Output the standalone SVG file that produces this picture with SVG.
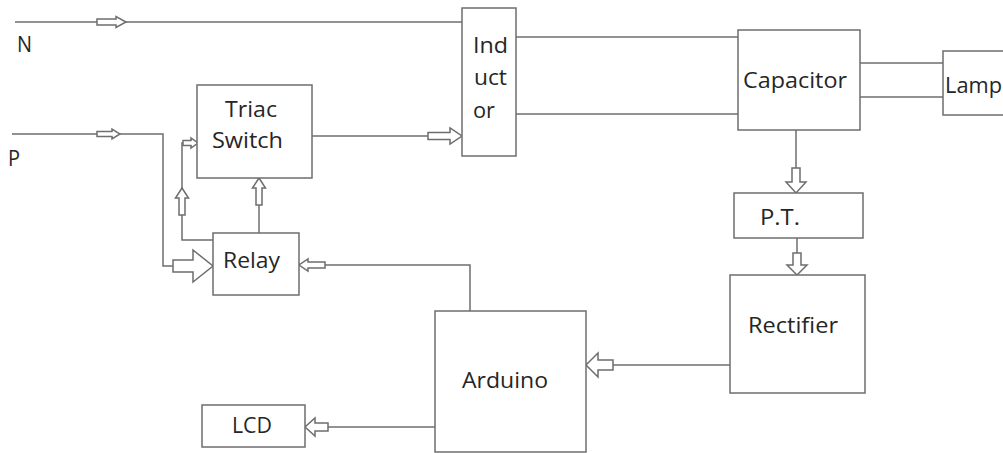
<svg xmlns="http://www.w3.org/2000/svg" width="1003" height="453" viewBox="0 0 1003 453">
<style>
.box{fill:#fff;stroke:#6e6e6e;stroke-width:1.5}
.ln{fill:none;stroke:#6e6e6e;stroke-width:1.5}
.arr{fill:#fff;stroke:#6e6e6e;stroke-width:1.5;stroke-linejoin:miter}
text{font-family:"Open Sans","Liberation Sans",sans-serif;font-size:21px;fill:#262626}
</style>
<rect width="1003" height="453" fill="#fff"/>
<g id="connectors">
<polyline class="ln" points="15,22 462,22"/>
<polyline class="ln" points="12,134 163,134 163,266 173,266"/>
<polyline class="ln" points="213,240 182,240 182,143 183,143"/>
<polyline class="ln" points="259,233 259,205"/>
<polyline class="ln" points="312,136 428,136"/>
<polyline class="ln" points="516,37 738,37"/>
<polyline class="ln" points="516,114 738,114"/>
<polyline class="ln" points="860,63 943,63"/>
<polyline class="ln" points="860,97 943,97"/>
<polyline class="ln" points="796,130 796,168"/>
<polyline class="ln" points="797,238 797,253"/>
<polyline class="ln" points="730,365 613,365"/>
<polyline class="ln" points="470,311 470,265 325,265"/>
<polyline class="ln" points="435,427 328,427"/>
<polygon class="arr" points="97,19 116,19 116,16.5 126,22 116,27.5 116,25 97,25"/>
<polygon class="arr" points="97,131.5 112,131.5 112,129 120,134 112,139 112,136.5 97,136.5"/>
<polygon class="arr" points="173,260 193,260 193,250 213,266 193,282 193,272 173,272"/>
<polygon class="arr" points="183,140.5 191,140.5 191,138 198,143 191,148 191,145.5 183,145.5"/>
<polygon class="arr" points="179,215 179,198 175.5,198 182,188 188.5,198 185,198 185,215"/>
<polygon class="arr" points="256,205 256,188 252.5,188 259,178 265.5,188 262,188 262,205"/>
<polygon class="arr" points="428,132.5 450,132.5 450,128 462,136 450,144 450,139.5 428,139.5"/>
<polygon class="arr" points="325,262 308,262 308,259 299,265 308,271 308,268 325,268"/>
<polygon class="arr" points="792,168 792,182 786,182 796,193 806,182 800,182 800,168"/>
<polygon class="arr" points="793,253 793,265 787,265 797,275 807,265 801,265 801,253"/>
<polygon class="arr" points="613,360 598,360 598,353 586,365 598,377 598,370 613,370"/>
<polygon class="arr" points="328,423 315,423 315,418 305,427 315,436 315,431 328,431"/>
</g>
<g id="label-N"><text x="17" y="52" textLength="15" lengthAdjust="spacingAndGlyphs">N</text></g>
<g id="label-P"><text x="8" y="166" textLength="12" lengthAdjust="spacingAndGlyphs">P</text></g>
<g id="triac">
<rect class="box" x="197" y="85" width="115" height="93"/>
<text x="225" y="117" textLength="52" lengthAdjust="spacingAndGlyphs">Triac</text>
<text x="212" y="148" textLength="71" lengthAdjust="spacingAndGlyphs">Switch</text>
</g>
<g id="relay">
<rect class="box" x="213" y="233" width="86" height="62"/>
<text x="223" y="268" textLength="57" lengthAdjust="spacingAndGlyphs">Relay</text>
</g>
<g id="inductor">
<rect class="box" x="462" y="8" width="54" height="148"/>
<text x="473" y="53" textLength="35" lengthAdjust="spacingAndGlyphs">Ind</text>
<text x="474" y="85" textLength="33" lengthAdjust="spacingAndGlyphs">uct</text>
<text x="473" y="118" textLength="22" lengthAdjust="spacingAndGlyphs">or</text>
</g>
<g id="capacitor">
<rect class="box" x="738" y="30" width="122" height="100"/>
<text x="743" y="88" textLength="104" lengthAdjust="spacingAndGlyphs">Capacitor</text>
</g>
<g id="lamp">
<rect class="box" x="943" y="51" width="70" height="64"/>
<text x="945" y="93" textLength="57" lengthAdjust="spacingAndGlyphs">Lamp</text>
</g>
<g id="pt">
<rect class="box" x="734" y="193" width="129" height="45"/>
<text x="760" y="225" textLength="40" lengthAdjust="spacingAndGlyphs">P.T.</text>
</g>
<g id="rectifier">
<rect class="box" x="730" y="275" width="135" height="118"/>
<text x="748" y="333" textLength="90" lengthAdjust="spacingAndGlyphs">Rectifier</text>
</g>
<g id="arduino">
<rect class="box" x="435" y="311" width="151" height="141"/>
<text x="462" y="388" textLength="86" lengthAdjust="spacingAndGlyphs">Arduino</text>
</g>
<g id="lcd">
<rect class="box" x="202" y="405" width="103" height="42"/>
<text x="232" y="433" textLength="40" lengthAdjust="spacingAndGlyphs">LCD</text>
</g>
</svg>
